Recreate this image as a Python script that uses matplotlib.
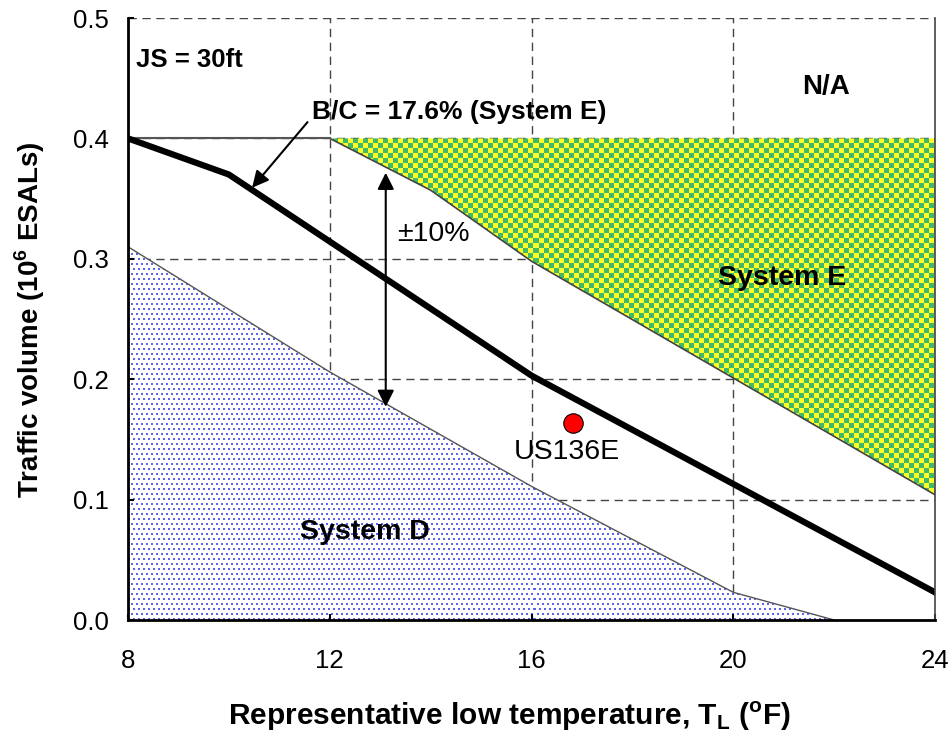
import numpy as np
import matplotlib
matplotlib.use("Agg")
import matplotlib.pyplot as plt
from matplotlib.patches import Polygon

plt.rcParams["font.family"] = ["Liberation Sans", "DejaVu Sans"]
plt.rcParams["mathtext.fontset"] = "custom"
plt.rcParams["mathtext.rm"] = "Liberation Sans"
plt.rcParams["mathtext.bf"] = "Liberation Sans:bold"

# B/C = 17.6% boundary line (System E)
bc_x = [8, 10, 16, 24]
bc_y = [0.400, 0.370, 0.203, 0.023]

# System E region: lower boundary, top capped at 0.4
sysE_x = [12, 14, 16, 24]
sysE_y = [0.400, 0.357, 0.298, 0.104]
sysE_top = 0.4

# System D region: upper boundary
sysD_x = [8, 12, 16, 20, 22]
sysD_y = [0.310, 0.206, 0.111, 0.023, 0.0]

# project point
pt_name = "US136E"
pt_x = 16.82
pt_y = 0.164

# +-10% band arrow
band_x = 13.11
band_lo = 0.177
band_hi = 0.3715

x_ticks = [8, 12, 16, 20, 24]
y_ticks = [0.0, 0.1, 0.2, 0.3, 0.4, 0.5]

W, H = 951, 739
fig = plt.figure(figsize=(W / 100, H / 100), dpi=100)
ax = fig.add_axes([128 / W, (H - 620) / H, 807 / W, 602 / H])
ax.set_xlim(8, 24)
ax.set_ylim(0, 0.5)

# grid
for gx in [12, 16, 20]:
    ax.axvline(gx, color="#444444", lw=1.0, ls=(0, (6, 4)), zorder=0.5)
for gy in [0.1, 0.2, 0.3, 0.4, 0.5]:
    ax.axhline(gy, color="#444444", lw=1.0, ls=(0, (6, 4)), zorder=0.5)

# textures (pixel sized)
pw, ph = 807, 602
rr, cc = np.indices((ph, pw))

# checkerboard for System E
sq = 5
check = ((rr // sq + cc // sq) % 2 == 0)
imgE = np.zeros((ph, pw, 3))
imgE[check] = np.array([255, 255, 40]) / 255
imgE[~check] = np.array([65, 185, 105]) / 255

# dots for System D
imgD = np.ones((ph, pw, 3))
shift = (rr // 5) % 2 * 2
dots = (rr % 5 < 2) & ((cc + shift) % 5 < 2)
imgD[dots] = np.array([95, 100, 240]) / 255

polyE = Polygon(list(zip(sysE_x, sysE_y)) + [(sysE_x[-1], sysE_top)],
                closed=True, facecolor="none", edgecolor="none")
ax.add_patch(polyE)
imE = ax.imshow(imgE, extent=[8, 24, 0, 0.5], aspect="auto",
                interpolation="nearest", zorder=1)
imE.set_clip_path(polyE)

polyD = Polygon([(8, 0)] + list(zip(sysD_x, sysD_y)),
                closed=True, facecolor="none", edgecolor="none")
ax.add_patch(polyD)
imD = ax.imshow(imgD, extent=[8, 24, 0, 0.5], aspect="auto",
                interpolation="nearest", zorder=1)
imD.set_clip_path(polyD)

# boundary lines
ax.plot(sysE_x, sysE_y, color="#444444", lw=1.2, zorder=2)
ax.plot(sysD_x, sysD_y, color="#555555", lw=1.0, zorder=2)
ax.plot([8, 12], [0.4, 0.4], color="#555555", lw=1.5, zorder=2)
ax.plot(bc_x, bc_y, color="black", lw=4.5, zorder=3, solid_joinstyle="miter")

# point
ax.plot(pt_x, pt_y, "o", ms=14, mfc="red", mec="black", mew=0.8, zorder=4)
ax.text(pt_x - 0.12, pt_y - 0.0245, pt_name, fontsize=20.5, ha="center",
        va="center", zorder=4)

# +-10% arrow
ax.annotate("", xy=(band_x, band_hi), xytext=(band_x, band_lo),
            arrowprops=dict(arrowstyle="<|-|>", color="black", lw=1.5,
                            mutation_scale=25, shrinkA=0, shrinkB=0),
            zorder=4)
ax.text(band_x + 0.22, 0.321, "\u00b110%", fontsize=20.5, ha="left", va="center")

# B/C label with arrow
ax.annotate("B/C = 17.6% (System E)", xy=(10.46, 0.359), xytext=(11.65, 0.422),
            fontsize=19, fontweight="bold", ha="left", va="center",
            arrowprops=dict(arrowstyle="-|>", color="black", lw=1.5,
                            mutation_scale=25, shrinkA=2, shrinkB=0,
                            relpos=(0, 0.3)),
            zorder=4)

ax.text(8.16, 0.465, "JS = 30ft", fontsize=18.5, fontweight="bold",
        ha="left", va="center")
ax.text(21.84, 0.443, "N/A", fontsize=20, fontweight="bold",
        ha="center", va="center")
ax.text(20.97, 0.284, "System E", fontsize=20.5, fontweight="bold",
        ha="center", va="center", zorder=4)
ax.text(12.70, 0.073, "System D", fontsize=20.5, fontweight="bold",
        ha="center", va="center", zorder=4)

# axes styling
ax.set_xticks(x_ticks)
ax.set_yticks(y_ticks)
ax.set_xticklabels([str(t) for t in x_ticks])
ax.set_yticklabels([f"{t:.1f}" for t in y_ticks])
ax.tick_params(axis="both", direction="in", length=4, width=1.5, labelsize=18.5)
ax.tick_params(axis="x", pad=21)
ax.tick_params(axis="y", pad=14)
ax.spines["top"].set_visible(False)
ax.spines["left"].set_linewidth(2)
ax.spines["bottom"].set_linewidth(2)
ax.spines["right"].set_linewidth(1.2)
ax.spines["right"].set_color("#444444")
for s in ax.spines.values():
    s.set_zorder(5)

fig.text(509 / W, 1 - 716 / H,
         r"Representative low temperature, T$_\mathbf{L}$ ($^\mathbf{o}$F)",
         fontsize=21.5, fontweight="bold", ha="center", va="center")
fig.text(30 / W, 1 - 320 / H, r"Traffic volume (10$^\mathbf{6}$ ESALs)",
         fontsize=20, fontweight="bold", ha="center", va="center",
         rotation=90)

fig.savefig("out.png", dpi=100)
